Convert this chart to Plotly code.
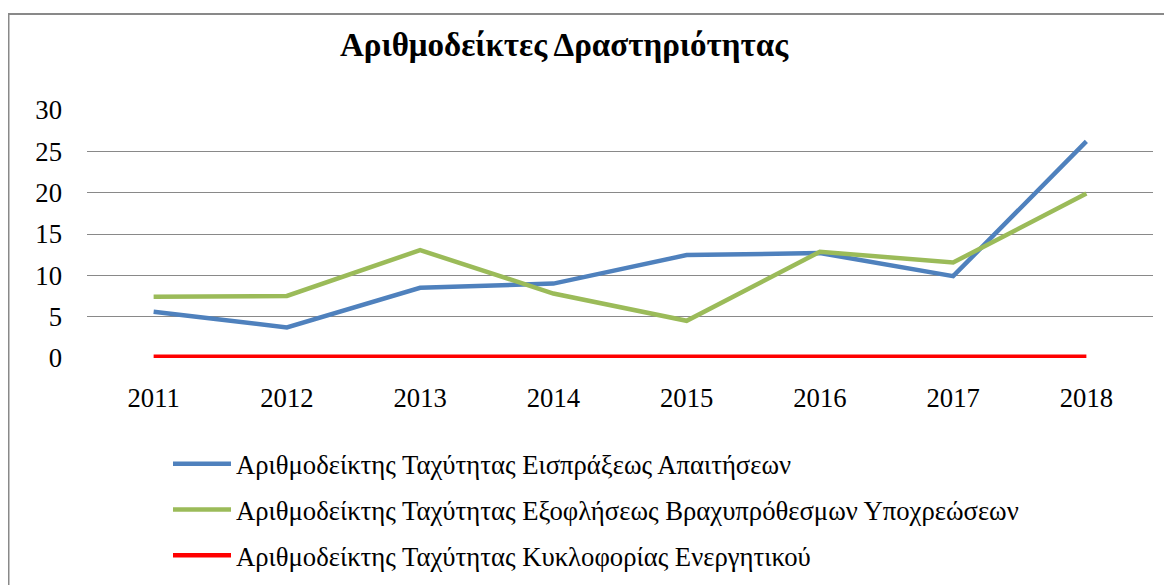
import plotly.graph_objects as go

years = ["2011", "2012", "2013", "2014", "2015", "2016", "2017", "2018"]
receivables = [5.6, 3.7, 8.5, 9.0, 12.45, 12.7, 9.9, 26.2]
payables = [7.4, 7.5, 13.05, 7.8, 4.5, 12.85, 11.55, 19.9]
assets = [0.15, 0.15, 0.15, 0.15, 0.15, 0.15, 0.15, 0.15]

names = [
    "Αριθμοδείκτης Ταχύτητας Εισπράξεως Απαιτήσεων",
    "Αριθμοδείκτης Ταχύτητας Εξοφλήσεως Βραχυπρόθεσμων Υποχρεώσεων",
    "Αριθμοδείκτης Ταχύτητας Κυκλοφορίας Ενεργητικού",
]
colors = ["#4F81BD", "#9BBB59", "#FF0000"]
series = [receivables, payables, assets]

# page body has an 8px margin; work in screen pixels and subtract it
OFF = 8
W, H = 1172, 585
L, R, T, B = 87 - OFF, 1172 - (1153 - OFF), 110 - OFF, 585 - (358 - OFF)
pw, ph = W - L - R, H - T - B

fig = go.Figure()
for i, (nm, vals, c) in enumerate(zip(names, series, colors)):
    fig.add_trace(go.Scatter(
        x=years, y=vals, name=nm, mode="lines",
        line=dict(color=c, width=4.5),
        legendgroup=f"g{i}",
    ))

FF = "Liberation Serif, DejaVu Serif, serif"
FS = 26.7

def px_x(px):
    return (px - OFF - L) / pw

def px_y(py):
    return (H - B - (py - OFF)) / ph

fig.update_layout(
    width=W, height=H,
    margin=dict(l=L, r=R, t=T, b=B, autoexpand=False),
    paper_bgcolor="white", plot_bgcolor="white",
    font=dict(family=FF, color="black", size=FS),
    title=dict(
        text="<b>Αριθμοδείκτες Δραστηριότητας</b>",
        font=dict(size=33, family=FF, color="black"),
        x=(564 - OFF) / W, xanchor="center", xref="container",
        y=1 - (44 - OFF) / H, yanchor="middle", yref="container",
    ),
    xaxis=dict(
        type="category", range=[-0.5, 7.5],
        showgrid=False, zeroline=False, showline=False,
        ticks="", tickfont=dict(size=FS, family=FF, color="black"),
        ticklabelstandoff=21,
    ),
    yaxis=dict(
        range=[0, 30], tickvals=[0, 5, 10, 15, 20, 25, 30],
        showgrid=True, gridcolor="#898989", gridwidth=1.3,
        zeroline=False, showline=False, ticks="",
        tickfont=dict(size=FS, family=FF, color="black"),
        ticklabelstandoff=24,
    ),
    showlegend=True,
    legend=dict(
        x=px_x(168), xanchor="left", y=px_y(440), yanchor="top",
        orientation="v", font=dict(size=FS, family=FF, color="black"),
        tracegroupgap=8, itemwidth=58, bgcolor="rgba(0,0,0,0)",
    ),
)

fig.add_shape(
    type="rect", xref="paper", yref="paper",
    x0=px_x(8.5), x1=px_x(1190), y0=px_y(610), y1=px_y(14),
    line=dict(color="#898989", width=2), fillcolor="rgba(0,0,0,0)", layer="below",
)

fig.write_html("out.html")
